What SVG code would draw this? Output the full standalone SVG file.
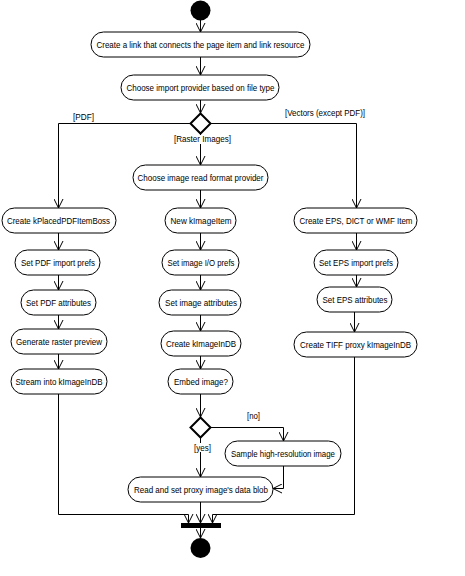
<svg xmlns="http://www.w3.org/2000/svg" width="465" height="576" viewBox="0 0 465 576">
<defs>
<style>
.n rect{fill:#fff;stroke:#000;stroke-width:1}
text{font-family:"Liberation Sans",Arial,sans-serif;font-size:9px;fill:#000}
.n text{text-anchor:middle}
.c{fill:none;stroke:#000;stroke-width:1;marker-end:url(#ah)}
.d{fill:#fff;stroke:#000;stroke-width:2}
.bg{fill:#fff}
</style>
<marker id="ah" viewBox="-10 -5 11 10" refX="0" refY="0" markerWidth="11" markerHeight="10" markerUnits="userSpaceOnUse" orient="auto">
<path d="M-9,-4.5 L0,0 L-9,4.5" fill="none" stroke="#000" stroke-width="1"/>
</marker>
</defs>
<rect width="465" height="576" fill="#fff"/>
<g id="connectors">
<path class="c" d="M200.5,20 V32"/>
<path class="c" d="M200.5,57 V75"/>
<path class="c" d="M200.5,100 V113"/>
<path class="c" d="M191,123.5 H58.5 V208"/>
<path class="c" d="M211,123.5 H356.5 V208"/>
<path class="c" d="M200.5,134 V165"/>
<path class="c" d="M200.5,190 V208"/>
<path class="c" d="M58.5,233 V250"/>
<path class="c" d="M58.5,275 V290"/>
<path class="c" d="M58.5,315 V329"/>
<path class="c" d="M58.5,354 V369"/>
<path class="c" d="M58.5,394 V514.5 H188.5 V523"/>
<path class="c" d="M200.5,233 V250"/>
<path class="c" d="M200.5,275 V290"/>
<path class="c" d="M200.5,315 V331"/>
<path class="c" d="M200.5,356 V369"/>
<path class="c" d="M200.5,394 V417"/>
<path class="c" d="M211,427.5 H283.5 V441"/>
<path class="c" d="M200.5,438 V477"/>
<path class="c" d="M283.5,466 V488.5 H273"/>
<path class="c" d="M200.5,502 V523"/>
<path class="c" d="M356.5,233 V250"/>
<path class="c" d="M356.5,275 V287"/>
<path class="c" d="M354.5,312 V332"/>
<path class="c" d="M354.5,357 V514.5 H212.5 V523"/>
<path class="c" d="M200.5,528 V538"/>
</g>
<g id="labels">
<text x="73" y="120" textLength="21" lengthAdjust="spacingAndGlyphs">[PDF]</text>
<text x="285" y="116" textLength="80" lengthAdjust="spacingAndGlyphs">[Vectors (except PDF)]</text>
<rect class="bg" x="174" y="135" width="57" height="9"/>
<text x="174" y="142" textLength="57" lengthAdjust="spacingAndGlyphs">[Raster Images]</text>
<text x="247" y="419" textLength="13" lengthAdjust="spacingAndGlyphs">[no]</text>
<rect class="bg" x="194" y="443" width="17" height="9"/>
<text x="194" y="451" textLength="17" lengthAdjust="spacingAndGlyphs">[yes]</text>
</g>
<g id="start"><circle cx="200.5" cy="10.5" r="10" fill="#000"/></g>
<g id="n1" class="n"><rect x="91" y="32" width="219" height="25" rx="12.5"/><text x="200.5" y="48" textLength="208" lengthAdjust="spacingAndGlyphs">Create a link that connects the page item and link resource</text></g>
<g id="n2" class="n"><rect x="121" y="75" width="158" height="25" rx="12.5"/><text x="200.5" y="91" textLength="148" lengthAdjust="spacingAndGlyphs">Choose import provider based on file type</text></g>
<g id="d1"><polygon class="d" points="200.5,113.5 210.5,123.5 200.5,133.5 190.5,123.5"/></g>
<g id="r1" class="n"><rect x="133" y="165" width="135" height="25" rx="12.5"/><text x="200.5" y="181" textLength="126" lengthAdjust="spacingAndGlyphs">Choose image read format provider</text></g>
<g id="l1" class="n"><rect x="2" y="208" width="114" height="25" rx="12.5"/><text x="58.5" y="224" textLength="103" lengthAdjust="spacingAndGlyphs">Create kPlacedPDFItemBoss</text></g>
<g id="c1" class="n"><rect x="165" y="208" width="71" height="25" rx="12.5"/><text x="201" y="224" textLength="61" lengthAdjust="spacingAndGlyphs">New kImageItem</text></g>
<g id="v1" class="n"><rect x="294" y="208" width="123" height="25" rx="12.5"/><text x="356" y="224" textLength="113" lengthAdjust="spacingAndGlyphs">Create EPS, DICT or WMF Item</text></g>
<g id="l2" class="n"><rect x="15" y="250" width="85" height="25" rx="12.5"/><text x="58" y="266" textLength="74" lengthAdjust="spacingAndGlyphs">Set PDF import prefs</text></g>
<g id="c2" class="n"><rect x="162" y="250" width="77" height="25" rx="12.5"/><text x="201" y="266" textLength="67" lengthAdjust="spacingAndGlyphs">Set image I/O prefs</text></g>
<g id="v2" class="n"><rect x="314" y="250" width="84" height="25" rx="12.5"/><text x="356" y="266" textLength="74" lengthAdjust="spacingAndGlyphs">Set EPS import prefs</text></g>
<g id="l3" class="n"><rect x="21" y="290" width="75" height="25" rx="12.5"/><text x="58.5" y="306" textLength="65" lengthAdjust="spacingAndGlyphs">Set PDF attributes</text></g>
<g id="c3" class="n"><rect x="159" y="290" width="82" height="25" rx="12.5"/><text x="201" y="306" textLength="72" lengthAdjust="spacingAndGlyphs">Set image attributes</text></g>
<g id="v3" class="n"><rect x="317" y="287" width="75" height="25" rx="12.5"/><text x="355" y="303" textLength="65" lengthAdjust="spacingAndGlyphs">Set EPS attributes</text></g>
<g id="l4" class="n"><rect x="11" y="329" width="96" height="25" rx="12.5"/><text x="59" y="345" textLength="86" lengthAdjust="spacingAndGlyphs">Generate raster preview</text></g>
<g id="c4" class="n"><rect x="161" y="331" width="80" height="25" rx="12.5"/><text x="201" y="347" textLength="70" lengthAdjust="spacingAndGlyphs">Create kImageInDB</text></g>
<g id="v4" class="n"><rect x="294" y="332" width="123" height="25" rx="12.5"/><text x="355.5" y="348" textLength="111" lengthAdjust="spacingAndGlyphs">Create TIFF proxy kImageInDB</text></g>
<g id="l5" class="n"><rect x="11" y="369" width="96" height="25" rx="12.5"/><text x="59" y="385" textLength="87" lengthAdjust="spacingAndGlyphs">Stream into kImageInDB</text></g>
<g id="c5" class="n"><rect x="168" y="369" width="65" height="25" rx="12.5"/><text x="201" y="385" textLength="54" lengthAdjust="spacingAndGlyphs">Embed image?</text></g>
<g id="d2"><polygon class="d" points="200.5,417.5 210.5,427.5 200.5,437.5 190.5,427.5"/></g>
<g id="s1" class="n"><rect x="225" y="441" width="116" height="25" rx="12.5"/><text x="283" y="457" textLength="104" lengthAdjust="spacingAndGlyphs">Sample high-resolution image</text></g>
<g id="rb" class="n"><rect x="128" y="477" width="145" height="25" rx="12.5"/><text x="201" y="493" textLength="134" lengthAdjust="spacingAndGlyphs">Read and set proxy image's data blob</text></g>
<g id="join"><rect x="181" y="523" width="40" height="5" fill="#000"/></g>
<g id="end"><circle cx="200.5" cy="548" r="10" fill="#000"/></g>
</svg>
